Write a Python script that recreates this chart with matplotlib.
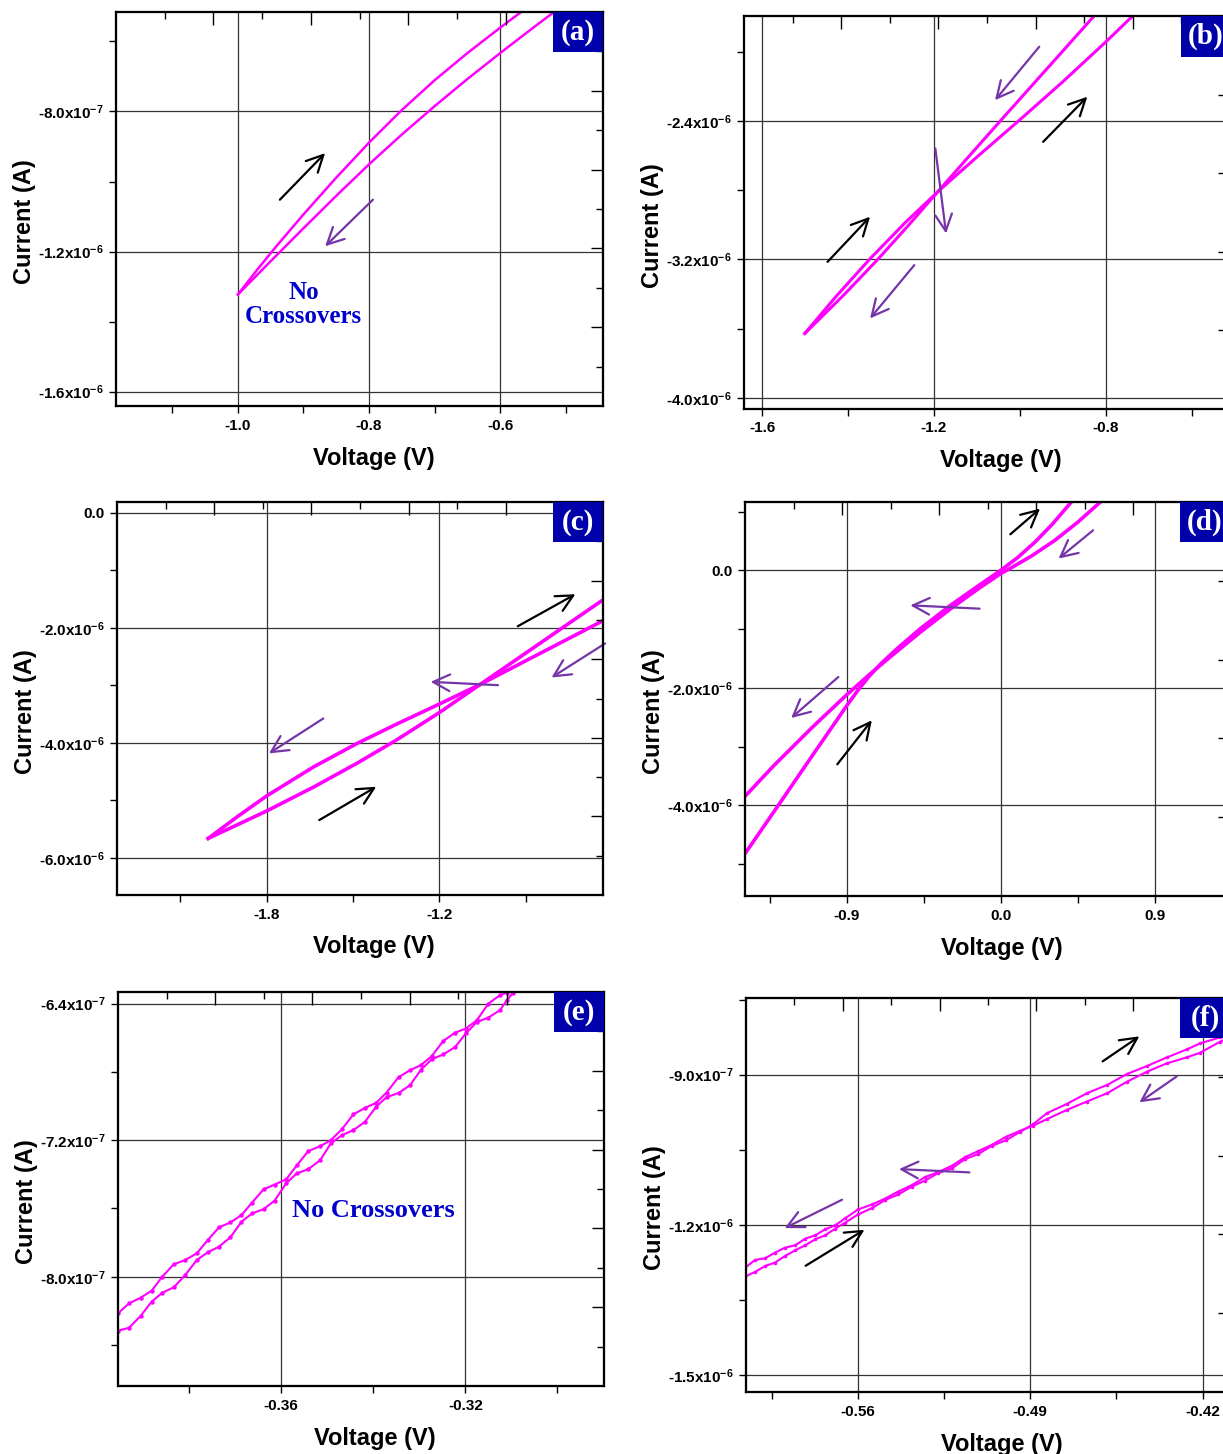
import numpy as np
import matplotlib
matplotlib.use("Agg")
import matplotlib.pyplot as plt
from matplotlib.patches import Rectangle

# ==========================
# DATA (voltage in V, current in uA / 1e-7 A as noted)
# ==========================

# (a) current in uA
a_v_fwd = [-1.000, -0.970, -0.945, -0.900, -0.850, -0.800, -0.750, -0.700, -0.650, -0.600, -0.568]
a_i_fwd = [-1.3225, -1.2505, -1.193, -1.094, -0.989, -0.889, -0.796, -0.711, -0.6335, -0.561, -0.516]
a_v_rev = [-0.517, -0.550, -0.600, -0.650, -0.700, -0.750, -0.800, -0.850, -0.900, -0.950, -1.000]
a_i_rev = [-0.515, -0.5615, -0.6335, -0.7075, -0.785, -0.866, -0.951, -1.041, -1.1335, -1.2275, -1.3225]
a_black = [(-0.936, -1.052, -0.867, -0.919)]
a_purple = [(-0.794, -1.052, -0.867, -1.185)]

# (b) current in uA
b_v_fwd = [-1.501, -1.430, -1.349, -1.268, -1.188, -1.098, -1.000, -0.900, -0.800, -0.737]
b_i_fwd = [-3.628, -3.419, -3.196, -2.989, -2.801, -2.603, -2.392, -2.172, -1.942, -1.791]
b_v_rev = [-0.828, -0.928, -1.036, -1.116, -1.188, -1.260, -1.333, -1.412, -1.501]
b_i_rev = [-1.794, -2.072, -2.372, -2.596, -2.799, -3.004, -3.205, -3.410, -3.628]
b_black = [(-0.946, -2.520, -0.843, -2.259), (-1.448, -3.214, -1.349, -2.953)]
b_purple = [(-0.955, -1.970, -1.058, -2.279), (-1.197, -2.558, -1.172, -3.050),
            (-1.246, -3.233, -1.349, -3.541)]

# (c) current in uA
c_v_fwd = [-2.003, -1.899, -1.800, -1.637, -1.486, -1.348, -1.200, -1.058, -0.906, -0.769, -0.626]
c_i_fwd = [-5.664, -5.420, -5.187, -4.771, -4.356, -3.949, -3.475, -2.985, -2.461, -1.988, -1.495]
c_v_rev = [-0.626, -0.769, -0.906, -1.058, -1.200, -1.348, -1.486, -1.637, -1.800, -1.899, -2.003]
c_i_rev = [-1.862, -2.234, -2.590, -2.985, -3.326, -3.674, -4.012, -4.420, -4.925, -5.276, -5.664]
c_black = [(-0.927, -1.971, -0.727, -1.414), (-1.617, -5.345, -1.419, -4.765)]
c_purple = [(-0.624, -2.272, -0.810, -2.864), (-0.996, -2.997, -1.230, -2.939),
            (-1.603, -3.577, -1.792, -4.185)]

# (d) current in uA
d_v_fwd = [-1.496, -1.316, -1.103, -0.900, -0.833, -0.765, -0.700, -0.600, -0.473, -0.293, -0.135,
           0.000, 0.100, 0.200, 0.300, 0.413]
d_i_fwd = [-4.823, -4.063, -3.158, -2.301, -2.033, -1.788, -1.5865, -1.3165, -0.999, -0.594, -0.270,
           0.000, 0.220, 0.480, 0.780, 1.163]
d_v_rev = [0.580, 0.450, 0.315, 0.180, 0.068, 0.000, -0.135, -0.293, -0.473, -0.653, -0.765, -0.900,
           -1.103, -1.328, -1.496]
d_i_rev = [1.156, 0.818, 0.507, 0.244, 0.054, -0.055, -0.322, -0.654, -1.059, -1.491, -1.765, -2.116,
           -2.674, -3.326, -3.847]
d_black = [(0.056, 0.613, 0.230, 1.050), (-0.956, -3.302, -0.754, -2.553)]
d_purple = [(0.540, 0.681, 0.338, 0.199), (-0.124, -0.653, -0.529, -0.596),
            (-0.950, -1.816, -1.226, -2.514)]

# (e) current in 1e-7 A
e_v = [-0.3954, -0.3930, -0.3905, -0.3881, -0.3858, -0.3833, -0.3808, -0.3783, -0.3759, -0.3735,
       -0.3710, -0.3686, -0.3663, -0.3638, -0.3614, -0.3589, -0.3566, -0.3541, -0.3515, -0.3492,
       -0.3468, -0.3443, -0.3418, -0.3394, -0.3371, -0.3345, -0.3320, -0.3297, -0.3273, -0.3248,
       -0.3222, -0.3199, -0.3175, -0.3150, -0.3125, -0.3110, -0.3096]
e_i_up = [-8.214, -8.156, -8.123, -8.082, -8.000, -7.927, -7.902, -7.863, -7.785, -7.711,
          -7.682, -7.639, -7.566, -7.488, -7.460, -7.430, -7.348, -7.264, -7.235, -7.200,
          -7.136, -7.049, -7.011, -6.982, -6.921, -6.831, -6.790, -6.761, -6.708, -6.619,
          -6.570, -6.546, -6.498, -6.400, -6.351, -6.335]
e_i_dn = [-8.316, -8.299, -8.230, -8.146, -8.094, -8.062, -7.990, -7.902, -7.857, -7.824,
          -7.769, -7.678, -7.629, -7.604, -7.554, -7.453, -7.395, -7.370, -7.317, -7.219,
          -7.171, -7.141, -7.093, -7.005, -6.948, -6.924, -6.878, -6.790, -6.726, -6.698,
          -6.654, -6.575, -6.508, -6.482, -6.439, -6.381, -6.335]

# (f) current in 1e-7 A
f_v = [-0.6057, -0.6017, -0.5976, -0.5936, -0.5895, -0.5854, -0.5814, -0.5773, -0.5733, -0.5692,
       -0.5652, -0.5599, -0.5542, -0.5489, -0.5436, -0.5380, -0.5327, -0.5274, -0.5217, -0.5165,
       -0.5112, -0.5055, -0.4998, -0.4941, -0.4889, -0.4832, -0.4751, -0.4670, -0.4588, -0.4507,
       -0.4426, -0.4345, -0.4264, -0.4211, -0.4130, -0.4081]
f_i_fwd = [-13.026, -12.934, -12.815, -12.748, -12.616, -12.503, -12.404, -12.285, -12.205, -12.072,
           -11.953, -11.788, -11.659, -11.500, -11.390, -11.231, -11.112, -10.963, -10.864, -10.685,
           -10.586, -10.417, -10.307, -10.139, -9.990, -9.767, -9.582, -9.370, -9.205, -8.986,
           -8.827, -8.654, -8.495, -8.376, -8.257, -8.152]
f_i_rev = [-12.847, -12.696, -12.662, -12.549, -12.449, -12.404, -12.271, -12.205, -12.086, -12.006,
           -11.867, -11.688, -11.589, -11.470, -11.331, -11.202, -11.043, -10.943, -10.814, -10.645,
           -10.526, -10.397, -10.238, -10.119, -10.019, -9.886, -9.701, -9.536, -9.370, -9.139,
           -8.940, -8.773, -8.654, -8.563, -8.344, -8.231]
f_black = [(-0.4606, -8.734, -0.4457, -8.235), (-0.5812, -12.812, -0.5573, -12.093)]
f_purple = [(-0.4305, -9.033, -0.4457, -9.552), (-0.5147, -10.949, -0.5433, -10.883),
            (-0.5664, -11.495, -0.5897, -12.060)]

# ==========================
# STYLE
# ==========================

plt.rcParams['font.family'] = ['Liberation Sans', 'DejaVu Sans']
plt.rcParams['font.weight'] = 'bold'
plt.rcParams['mathtext.fontset'] = 'custom'
plt.rcParams['mathtext.rm'] = 'Liberation Sans:bold'
plt.rcParams['mathtext.it'] = 'Liberation Sans:bold'
plt.rcParams['mathtext.bf'] = 'Liberation Sans:bold'
plt.rcParams['mathtext.default'] = 'rm'

MAGENTA = '#FF00FF'
PURPLE = '#7535A8'
BOX = '#0000AA'
TEXT_BLUE = '#0000CC'

W, H = 1223, 1454
fig = plt.figure(figsize=(W / 100, H / 100), dpi=100)


def make_axes(left, top, right, bottom):
    return fig.add_axes([left / W, 1 - bottom / H, (right - left) / W, (bottom - top) / H])


def style_axes(ax, xlim, ylim, xmaj, xmin, xlab, ymaj, ymin, ylab, tag, box_px):
    ax.set_xlim(xlim)
    ax.set_ylim(ylim)
    ax.set_xticks(xmaj, labels=xlab)
    ax.set_xticks(xmin, minor=True)
    ax.set_yticks(ymaj, labels=ylab)
    ax.set_yticks(ymin, minor=True)
    ax.tick_params(which='both', direction='out', length=5, width=1,
                   top=False, right=False, labelsize=11, pad=4)
    ax.grid(True, which='major', color='#333333', lw=0.9)
    for s in ax.spines.values():
        s.set_linewidth(1.5)
    ax.set_xlabel('Voltage (V)', fontsize=17, fontweight='bold')
    ax.set_ylabel('Current (A)', fontsize=17, fontweight='bold')
    ax.xaxis.set_label_coords(0.529, -0.103)
    ax.yaxis.set_label_coords(-0.165, 0.467)

    # mirrored top / right axes with their own tick spacing
    top = ax.twiny()
    top.set_xlim(0, 1)
    top.set_xticks(np.arange(0.2, 0.95, 0.2))
    top.set_xticks(np.arange(0.1, 0.95, 0.2), minor=True)
    top.tick_params(axis='x', which='both', direction='in', labeltop=False, width=1)
    top.tick_params(axis='x', which='major', length=9)
    top.tick_params(axis='x', which='minor', length=5)
    rgt = ax.twinx()
    rgt.set_ylim(0, 1)
    rgt.set_yticks(np.arange(0.2, 0.95, 0.2))
    rgt.set_yticks(np.arange(0.1, 0.95, 0.2), minor=True)
    rgt.tick_params(axis='y', which='both', direction='in', labelright=False, width=1)
    rgt.tick_params(axis='y', which='major', length=9)
    rgt.tick_params(axis='y', which='minor', length=5)
    for a in (top, rgt):
        for s in a.spines.values():
            s.set_linewidth(1.5)

    # panel tag
    bw, bh = box_px
    ax_w = ax.get_position().width * W
    ax_h = ax.get_position().height * H
    fw, fh = bw / ax_w, bh / ax_h
    rgt.add_patch(Rectangle((1 - fw, 1 - fh), fw, fh, transform=ax.transAxes,
                            facecolor=BOX, edgecolor='none', zorder=5, clip_on=False))
    rgt.text(1 - fw / 2, 1 - fh / 2, tag, transform=ax.transAxes, color='white',
             fontsize=21, fontweight='bold', family=['Liberation Serif', 'DejaVu Serif'],
             ha='center', va='center', zorder=6)


def draw_arrows(ax, arrows, color, scale):
    for tv, ti, hv, hi in arrows:
        ax.annotate('', xy=(hv, hi * scale), xytext=(tv, ti * scale),
                    arrowprops=dict(arrowstyle='->,head_length=0.6,head_width=0.3',
                                    color=color, lw=1.6, mutation_scale=20,
                                    shrinkA=0, shrinkB=0))


def sci(v, e):
    return r'%s$\mathregular{x10^{%d}}$' % (v, e)


UA = 1e-6
E7 = 1e-7

# ==========================
# (a)
# ==========================
ax = make_axes(116, 12, 603, 406)
ax.plot(a_v_fwd, np.array(a_i_fwd) * UA, color=MAGENTA, lw=1.8)
ax.plot(a_v_rev, np.array(a_i_rev) * UA, color=MAGENTA, lw=1.8)
draw_arrows(ax, a_black, 'black', UA)
draw_arrows(ax, a_purple, PURPLE, UA)
ax.text(-0.900, -1.351e-6, 'No\nCrossovers', color=TEXT_BLUE, fontsize=18, fontweight='bold',
        family=['Liberation Serif', 'DejaVu Serif'], ha='center', va='center', linespacing=1.1)
style_axes(ax, (-1.186, -0.443), (-1.641e-6, -0.516e-6),
           [-1.0, -0.8, -0.6], [-1.1, -0.9, -0.7, -0.5], ['-1.0', '-0.8', '-0.6'],
           [-1.6e-6, -1.2e-6, -8.0e-7], [-1.4e-6, -1.0e-6, -6.0e-7],
           [sci('-1.6', -6), sci('-1.2', -6), sci('-8.0', -7)], '(a)', (50, 40))

# ==========================
# (b)
# ==========================
ax = make_axes(744, 16, 1230, 409)
ax.plot(b_v_fwd, np.array(b_i_fwd) * UA, color=MAGENTA, lw=2.2)
ax.plot(b_v_rev, np.array(b_i_rev) * UA, color=MAGENTA, lw=2.2)
draw_arrows(ax, b_black, 'black', UA)
draw_arrows(ax, b_purple, PURPLE, UA)
style_axes(ax, (-1.6426, -0.5107), (-4.065e-6, -1.792e-6),
           [-1.6, -1.2, -0.8], [-1.4, -1.0, -0.6], ['-1.6', '-1.2', '-0.8'],
           [-4.0e-6, -3.2e-6, -2.4e-6], [-3.6e-6, -2.8e-6, -2.0e-6],
           [sci('-4.0', -6), sci('-3.2', -6), sci('-2.4', -6)], '(b)', (49, 41))

# ==========================
# (c)
# ==========================
ax = make_axes(117, 502, 603, 895)
ax.plot(c_v_fwd, np.array(c_i_fwd) * UA, color=MAGENTA, lw=2.6)
ax.plot(c_v_rev, np.array(c_i_rev) * UA, color=MAGENTA, lw=2.6)
draw_arrows(ax, c_black, 'black', UA)
draw_arrows(ax, c_purple, PURPLE, UA)
style_axes(ax, (-2.320, -0.631), (-6.649e-6, 0.191e-6),
           [-1.8, -1.2], [-2.1, -1.5, -0.9], ['-1.8', '-1.2'],
           [-6.0e-6, -4.0e-6, -2.0e-6, 0.0], [-5.0e-6, -3.0e-6, -1.0e-6],
           [sci('-6.0', -6), sci('-4.0', -6), sci('-2.0', -6), '0.0'], '(c)', (50, 40))

# ==========================
# (d)
# ==========================
ax = make_axes(745, 502, 1230, 896)
ax.plot(d_v_fwd, np.array(d_i_fwd) * UA, color=MAGENTA, lw=2.6)
ax.plot(d_v_rev, np.array(d_i_rev) * UA, color=MAGENTA, lw=2.6)
draw_arrows(ax, d_black, 'black', UA)
draw_arrows(ax, d_purple, PURPLE, UA)
style_axes(ax, (-1.496, 1.341), (-5.544e-6, 1.163e-6),
           [-0.9, 0.0, 0.9], [-1.35, -0.45, 0.45], ['-0.9', '0.0', '0.9'],
           [-4.0e-6, -2.0e-6, 0.0], [-5.0e-6, -3.0e-6, -1.0e-6, 1.0e-6],
           [sci('-4.0', -6), sci('-2.0', -6), '0.0'], '(d)', (50, 40))

# ==========================
# (e)
# ==========================
ax = make_axes(118, 992, 604, 1386)
ax.plot(e_v[:len(e_i_up)], np.array(e_i_up) * E7, color=MAGENTA, lw=1.5, marker='o', ms=2.2)
ax.plot(e_v[:len(e_i_dn)], np.array(e_i_dn) * E7, color=MAGENTA, lw=1.5, marker='o', ms=2.2)
ax.text(-0.340, -7.61e-7, 'No Crossovers', color=TEXT_BLUE, fontsize=19, fontweight='bold',
        family=['Liberation Serif', 'DejaVu Serif'], ha='center', va='center')
style_axes(ax, (-0.3954, -0.2899), (-8.640e-7, -6.332e-7),
           [-0.36, -0.32], [-0.38, -0.34, -0.30], ['-0.36', '-0.32'],
           [-8.0e-7, -7.2e-7, -6.4e-7], [-8.4e-7, -7.6e-7, -6.8e-7],
           [sci('-8.0', -7), sci('-7.2', -7), sci('-6.4', -7)], '(e)', (50, 40))

# ==========================
# (f)
# ==========================
ax = make_axes(746, 998, 1230, 1392)
ax.plot(f_v, np.array(f_i_fwd) * E7, color=MAGENTA, lw=1.5, marker='o', ms=1.6)
ax.plot(f_v, np.array(f_i_rev) * E7, color=MAGENTA, lw=1.5, marker='o', ms=1.6)
draw_arrows(ax, f_black, 'black', E7)
draw_arrows(ax, f_purple, PURPLE, E7)
style_axes(ax, (-0.6054, -0.4089), (-1.533e-6, -7.47e-7),
           [-0.56, -0.49, -0.42], [-0.595, -0.525, -0.455], ['-0.56', '-0.49', '-0.42'],
           [-1.5e-6, -1.2e-6, -9.0e-7], [-1.35e-6, -1.05e-6, -7.5e-7],
           [sci('-1.5', -6), sci('-1.2', -6), sci('-9.0', -7)], '(f)', (50, 40))

fig.savefig('out.png', dpi=100)
plt.close(fig)
